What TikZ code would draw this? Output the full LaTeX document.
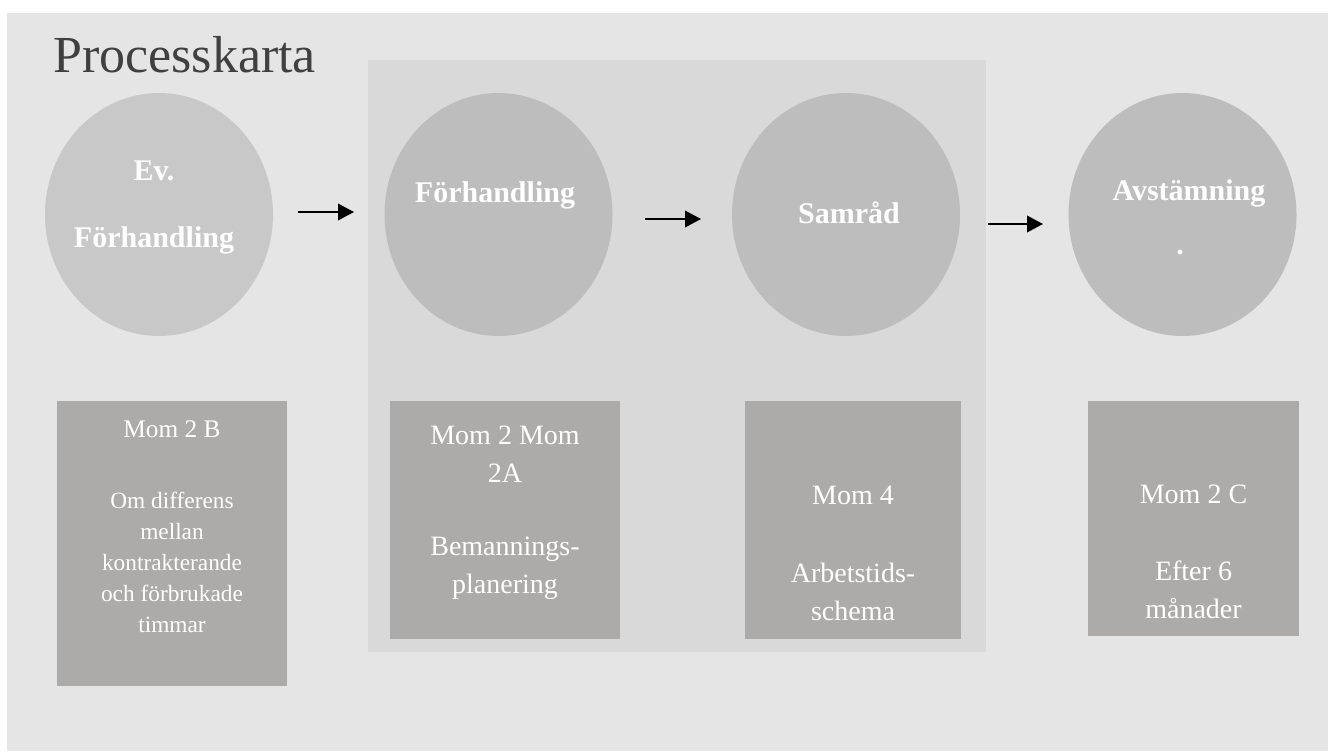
\documentclass[tikz,border=0pt]{standalone}
\usepackage{fontspec}
\setmainfont{Liberation Serif}
\usetikzlibrary{arrows.meta,shapes.geometric}
\definecolor{bgcol}{HTML}{E5E5E5}
\definecolor{panelcol}{HTML}{D9D9D9}
\definecolor{ellA}{HTML}{C8C8C8}
\definecolor{ellB}{HTML}{BDBDBD}
\definecolor{boxcol}{HTML}{ACABA9}
\definecolor{titlecol}{HTML}{404040}
\tikzset{
  stage/.style={ellipse, fill=ellB, draw=none, inner sep=0pt,
    minimum width=171pt, minimum height=182.25pt},
  momrect/.style={rectangle, fill=boxcol, draw=none, inner sep=0pt},
  stagetext/.style={text=white, inner sep=0pt, anchor=base, align=center,
    font=\fontsize{22.5}{26}\bfseries\selectfont},
  momhead/.style={text=white, inner sep=0pt, anchor=base, align=center,
    font=\fontsize{21}{28.5}\selectfont},
  momsmall/.style={text=white, inner sep=0pt, anchor=base, align=center,
    font=\fontsize{17.5}{23.25}\selectfont},
  flow/.style={-{Triangle[length=12pt,width=12.5pt]}, line width=1.1pt, black}
}
\begin{document}
\begin{tikzpicture}[x=0.75pt,y=-0.75pt]
\useasboundingbox (0,0) rectangle (1328,751);
\fill[white] (0,0) rectangle (1328,751);
\fill[bgcol] (7,13) rectangle (1328,751);
\fill[panelcol] (368,60) rectangle (986,652);

\node[anchor=base west, inner sep=0pt, text=titlecol,
  font=\fontsize{39}{44}\selectfont] (title) at (53,72) {Processkarta};

% stages
\node[stage, fill=ellA] (e1) at (159,214.5) {};
\node[stage] (e2) at (498.5,214.5) {};
\node[stage] (e3) at (846,214.5) {};
\node[stage] (e4) at (1182.5,214.5) {};

\node[stagetext] (t1a) at (154,180) {Ev.};
\node[stagetext] (t1b) at (154,247) {Förhandling};
\node[stagetext] (t2) at (495,202) {Förhandling};
\node[stagetext] (t3) at (849,223) {Samråd};
\node[stagetext] (t4a) at (1189,200) {Avstämning};
\node[stagetext] (t4b) at (1180,254) {.};

% arrows
\coordinate (a1s) at (298,212);
\coordinate (a1e) at (354,212);
\coordinate (a2s) at (645,219);
\coordinate (a2e) at (701,219);
\coordinate (a3s) at (988,224);
\coordinate (a3e) at (1043,224);
\draw[flow] (a1s) -- (a1e);
\draw[flow] (a2s) -- (a2e);
\draw[flow] (a3s) -- (a3e);

% boxes
\node[momrect, minimum width=172.5pt, minimum height=213.75pt] (b1) at (172,543.5) {};
\node[momrect, minimum width=172.5pt, minimum height=178.5pt] (b2) at (505,520) {};
\node[momrect, minimum width=162pt, minimum height=178.5pt] (b3) at (853,520) {};
\node[momrect, minimum width=158.25pt, minimum height=176.25pt] (b4) at (1193.5,518.5) {};

% multi-line texts are placed at the baseline of their last line
\node[momhead, font=\fontsize{19}{23.25}\selectfont] (h1) at (172,437) {Mom 2 B};
\node[momsmall] (d1) at (172,632) {Om differens\\mellan\\kontrakterande\\och förbrukade\\timmar};

\node[momhead] (h2) at (505,482) {Mom 2 Mom\\2A};
\node[momhead] (d2) at (505,593) {Bemannings-\\planering};

\node[momhead] (h3) at (853,504) {Mom 4};
\node[momhead] (d3) at (853,620) {Arbetstids-\\schema};

\node[momhead] (h4) at (1193.5,503) {Mom 2 C};
\node[momhead] (d4) at (1193.5,618) {Efter 6\\månader};
\end{tikzpicture}
\end{document}
